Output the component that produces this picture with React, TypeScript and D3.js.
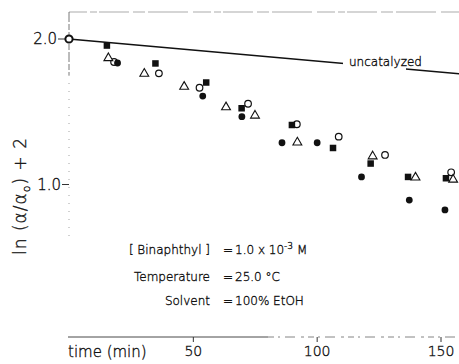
import { useEffect, useRef } from 'react';
import * as d3 from 'd3';

// ─── Data ───────────────────────────────────────────────────

const xTicks = [50, 100, 150];
const yTicks = [1.0, 2.0];

// uncatalyzed reference line
const uncatTime = [0, 158];
const uncatValue = [2.0, 1.76];

// filled squares
const sqTime = [15.3, 34.9, 55.4, 69.7, 90.0, 106.6, 121.8, 136.9, 152.2];
const sqValue = [1.955, 1.832, 1.701, 1.524, 1.409, 1.251, 1.144, 1.052, 1.043];

// open circles
const ocTime = [0, 18.2, 36.3, 52.7, 72.3, 92.0, 108.9, 127.6, 154.3];
const ocValue = [2.0, 1.842, 1.764, 1.665, 1.555, 1.414, 1.329, 1.203, 1.084];

// open triangles
const triTime = [15.9, 30.4, 46.5, 63.4, 75.1, 92.2, 122.6, 139.9, 155.1];
const triValue = [1.869, 1.762, 1.672, 1.531, 1.474, 1.289, 1.194, 1.048, 1.034];

// filled circles
const fcTime = [19.6, 54.0, 69.8, 86.0, 100.2, 118.1, 137.4, 151.8];
const fcValue = [1.835, 1.608, 1.466, 1.287, 1.287, 1.052, 0.893, 0.825];

const conditions = [
  { label: '[ Binaphthyl ]', value: '1.0 x 10', sup: '-3', unit: ' M' },
  { label: 'Temperature', value: '25.0 °C', sup: '', unit: '' },
  { label: 'Solvent', value: '100% EtOH', sup: '', unit: '' },
];

const zip = (t: number[], v: number[]) => t.map((d, i) => ({ t: d, v: v[i] }));

// ─── Component ──────────────────────────────────────────────

export default function App() {
  const svgRef = useRef<SVGSVGElement>(null);

  useEffect(() => {
    if (!svgRef.current) return;
    const svg = d3.select(svgRef.current);
    svg.selectAll('*').remove();

    const width = 459;
    const height = 364;
    const font = '"DejaVu Sans", sans-serif';
    const ink = '#111';

    // thin-but-dark lettering, like the original typeset figure
    const txt = (sel: any, size: number) =>
      sel.style('font-family', font).style('font-weight', '300')
        .style('font-size', `${size}px`).style('fill', ink)
        .style('stroke', ink).style('stroke-width', 0.35);

    svg.attr('width', width).attr('height', height);

    const x = d3.scaleLinear().domain([0, 150]).range([69, 440.5]);
    const y = d3.scaleLinear().domain([1, 2]).range([184.5, 39]);

    const top = 12;
    const axisY = 337;

    // Frame: faint dashed top, dotted y-axis, x-axis
    svg.append('line')
      .attr('x1', x(0)).attr('x2', width)
      .attr('y1', top).attr('y2', top)
      .attr('stroke', '#888').attr('stroke-width', 0.7)
      .attr('stroke-dasharray', '18 3 7 2 30 4 12 3 40 5');

    svg.append('line')
      .attr('x1', x(0)).attr('x2', x(0))
      .attr('y1', top).attr('y2', 75)
      .attr('stroke', '#555').attr('stroke-width', 0.8)
      .attr('stroke-dasharray', '10 2 6 2');
    svg.append('line')
      .attr('x1', x(0)).attr('x2', x(0))
      .attr('y1', 75).attr('y2', 240)
      .attr('stroke', '#999').attr('stroke-width', 0.9)
      .attr('stroke-dasharray', '1 7');

    svg.append('line')
      .attr('x1', 68).attr('x2', 268)
      .attr('y1', axisY).attr('y2', axisY)
      .attr('stroke', '#333').attr('stroke-width', 0.9);
    svg.append('line')
      .attr('x1', 268).attr('x2', width)
      .attr('y1', axisY).attr('y2', axisY)
      .attr('stroke', '#666').attr('stroke-width', 0.8)
      .attr('stroke-dasharray', '6 4 2 5 10 6 3 4');

    // X axis ticks + labels
    svg.append('g')
      .attr('transform', `translate(0,${axisY})`)
      .call(d3.axisBottom(x).tickValues(xTicks).tickSize(5).tickPadding(4).tickFormat(d3.format('d')))
      .call((g) => g.select('.domain').remove())
      .call((g) => g.selectAll('line').attr('stroke', '#333'))
      .selectAll('text')
      .call((sel) => txt(sel, 14));

    svg.append('text')
      .attr('x', 68).attr('y', 357)
      .call((sel) => txt(sel, 15))
      .text('time (min)');

    // Y ticks + labels
    yTicks.forEach((v) => {
      const right = v === 2 ? 58 : 62;
      svg.append('line')
        .attr('x1', right).attr('x2', x(0))
        .attr('y1', y(v)).attr('y2', y(v))
        .attr('stroke', '#333').attr('stroke-width', 1);
      svg.append('text')
        .attr('x', right - 1).attr('y', y(v)).attr('dy', '0.36em')
        .attr('text-anchor', 'end')
        .call((sel) => txt(sel, 15))
        .text(v.toFixed(1));
    });

    const ylab = svg.append('text')
      .attr('transform', `translate(26,196) rotate(-90)`)
      .attr('text-anchor', 'middle')
      .call((sel) => txt(sel, 17))
      .style('letter-spacing', '1px');
    ylab.append('tspan').text('ln (α/α');
    ylab.append('tspan').attr('dy', 4).style('font-size', '11px').text('o');
    ylab.append('tspan').attr('dy', -4).text(') + 2');

    // Uncatalyzed line
    const line = d3.line<{ t: number; v: number }>()
      .x((d) => x(d.t))
      .y((d) => y(d.v));

    svg.append('path')
      .datum(zip(uncatTime, uncatValue))
      .attr('fill', 'none')
      .attr('stroke', '#111')
      .attr('stroke-width', 1.6)
      .attr('d', line);

    svg.append('rect')
      .attr('x', 343).attr('y', 52).attr('width', 63).attr('height', 20)
      .attr('fill', '#fff');
    svg.append('text')
      .attr('x', 349).attr('y', 66)
      .call((sel) => txt(sel, 12))
      .text('uncatalyzed');

    // Markers
    const g = svg.append('g');

    g.selectAll('circle.oc')
      .data(zip(ocTime, ocValue))
      .join('circle')
      .attr('class', 'oc')
      .attr('cx', (d) => x(d.t)).attr('cy', (d) => y(d.v))
      .attr('r', (d) => (d.t === 0 ? 3.6 : 3.3))
      .attr('fill', '#fff')
      .attr('stroke', '#111')
      .attr('stroke-width', (d) => (d.t === 0 ? 2 : 1.2));

    const tri = d3.symbol().type(d3.symbolTriangle).size(34);
    g.selectAll('path.tri')
      .data(zip(triTime, triValue))
      .join('path')
      .attr('class', 'tri')
      .attr('transform', (d) => `translate(${x(d.t)},${y(d.v)})`)
      .attr('d', tri)
      .attr('fill', '#fff')
      .attr('stroke', '#111')
      .attr('stroke-width', 1.1);

    const s = 6.5;
    g.selectAll('rect.sq')
      .data(zip(sqTime, sqValue))
      .join('rect')
      .attr('class', 'sq')
      .attr('x', (d) => x(d.t) - s / 2).attr('y', (d) => y(d.v) - s / 2)
      .attr('width', s).attr('height', s)
      .attr('fill', '#111');

    g.selectAll('circle.fc')
      .data(zip(fcTime, fcValue))
      .join('circle')
      .attr('class', 'fc')
      .attr('cx', (d) => x(d.t)).attr('cy', (d) => y(d.v))
      .attr('r', 3.4)
      .attr('fill', '#111');

    // Conditions block
    const rows = [254, 281, 305];
    conditions.forEach((c, i) => {
      const by = rows[i];
      svg.append('text')
        .attr('x', 210).attr('y', by).attr('text-anchor', 'end')
        .call((sel) => txt(sel, 12))
        .text(c.label);
      svg.append('text')
        .attr('x', 228).attr('y', by).attr('text-anchor', 'middle')
        .call((sel) => txt(sel, 12))
        .text('=');
      const t = svg.append('text')
        .attr('x', 235).attr('y', by)
        .call((sel) => txt(sel, 12));
      t.append('tspan').text(c.value);
      if (c.sup) {
        t.append('tspan').attr('dy', -5).style('font-size', '9px').text(c.sup);
        t.append('tspan').attr('dy', 5).text(c.unit);
      }
    });
  }, []);

  return (
    <svg
      ref={svgRef}
      style={{ position: 'absolute', left: 0, top: 0, background: '#fff' }}
    />
  );
}
